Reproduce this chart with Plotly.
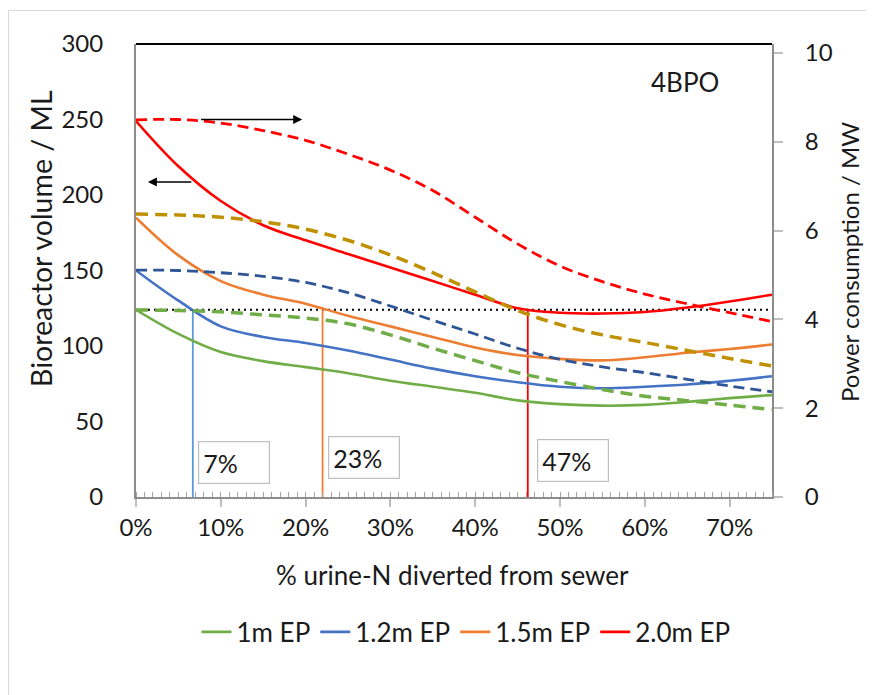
import plotly.graph_objects as go

# ---- data ----
diverted_pct = [0, 5, 10, 15, 20, 25, 30, 35, 40, 45, 50, 55, 60, 65, 70, 75]

# Bioreactor volume (ML) - left axis, solid
vol_1m = [124, 108, 96, 90, 86, 82, 77, 73, 69, 64, 61.5, 60.5, 61, 63, 65.5, 67.5]
vol_12m = [150, 130, 113, 106, 102, 97, 91, 85, 80, 76, 73, 72, 73, 74.5, 77, 80]
vol_15m = [185, 160, 143, 134, 128, 120, 113, 106, 99, 94, 91.5, 90.5, 92.5, 95.5, 98, 101]
vol_20m = [249, 219, 196, 180, 170, 161, 152, 143, 134, 125, 122, 121.5, 122.5, 125.5, 129.5, 134]

# Power consumption (MW) - right axis, dashed
pow_1m = [4.21, 4.2, 4.17, 4.1, 4.03, 3.9, 3.65, 3.35, 3.07, 2.8, 2.6, 2.42, 2.27, 2.17, 2.07, 1.97]
pow_12m = [5.11, 5.1, 5.05, 4.97, 4.83, 4.6, 4.3, 3.98, 3.67, 3.35, 3.1, 2.93, 2.8, 2.65, 2.5, 2.37]
pow_15m = [6.37, 6.35, 6.3, 6.2, 6.03, 5.78, 5.45, 5.05, 4.62, 4.2, 3.88, 3.65, 3.48, 3.3, 3.12, 2.95]
pow_20m = [8.49, 8.5, 8.42, 8.25, 8.03, 7.72, 7.36, 6.9, 6.3, 5.7, 5.2, 4.85, 4.57, 4.35, 4.15, 3.95]

series_names = ["1m EP", "1.2m EP", "1.5m EP", "2.0m EP"]

# threshold: volume of 1m EP with no diversion
threshold_volume = 124
threshold_x = [6.7, 22.0, 46.2]
threshold_labels = ["7%", "23%", "47%"]

x_ticks = [0, 10, 20, 30, 40, 50, 60, 70]
y_left_ticks = [0, 50, 100, 150, 200, 250, 300]
y_right_ticks = [0, 2, 4, 6, 8, 10]

# ---- styles ----
FONT = "Lato, 'Open Sans', sans-serif"
TXT = "#1a1a1a"
solid_colors = ["#70AD47", "#4472C4", "#ED7D31", "#FF0000"]
dash_colors = ["#70AD47", "#2F5597", "#BF9000", "#FF0000"]
dash_widths = [3.5, 2.8, 3.5, 2.8]
dash_patterns = ["12px,7px", "11px,6px", "12px,7px", "11px,6px"]
thr_colors = ["#5B9BD5", "#ED7D31", "#FF0000"]

fig = go.Figure()

vols = [vol_1m, vol_12m, vol_15m, vol_20m]
pows = [pow_1m, pow_12m, pow_15m, pow_20m]

# dashed (power, right axis)
for i in range(4):
    fig.add_trace(go.Scatter(
        x=diverted_pct, y=pows[i], yaxis="y2", mode="lines", showlegend=False,
        line=dict(color=dash_colors[i], width=dash_widths[i], dash=dash_patterns[i],
                  shape="spline", smoothing=1.0),
        hoverinfo="skip"))

# horizontal dotted threshold
fig.add_trace(go.Scatter(
    x=[diverted_pct[0], diverted_pct[-1]], y=[threshold_volume, threshold_volume],
    mode="lines", showlegend=False,
    line=dict(color="black", width=2.2, dash="2px,4px"), hoverinfo="skip"))

# vertical threshold lines
for i in range(3):
    fig.add_trace(go.Scatter(
        x=[threshold_x[i], threshold_x[i]], y=[0, threshold_volume], mode="lines",
        showlegend=False, line=dict(color=thr_colors[i], width=1.8), hoverinfo="skip"))

# solid (volume, left axis)
for i in range(4):
    fig.add_trace(go.Scatter(
        x=diverted_pct, y=vols[i], mode="lines", name=series_names[i],
        line=dict(color=solid_colors[i], width=2.6, shape="spline", smoothing=1.0)))

# page offset (body margin) and plot area in page pixels: x 136-772, y 44-497
OFF = 8
L, R, T, B = 136, 772, 44, 497
W, H = 874 - OFF, 695 - OFF


def px(xp):
    return (xp - L) / (R - L)


def py(yp):
    return (B - yp) / (B - T)


annotations = []
# text boxes
box_pos = [(233.5, 462), (363.5, 457.5), (573, 460.5)]
for lab, (bx, by) in zip(threshold_labels, box_pos):
    annotations.append(dict(
        x=px(bx), y=py(by), xref="paper", yref="paper", text=lab, showarrow=False,
        font=dict(family=FONT, size=25, color=TXT), align="left",
        width=62, height=33, borderpad=4, bordercolor="#bfbfbf", borderwidth=1.2,
        bgcolor="white", xanchor="center", yanchor="middle"))

# arrows
annotations.append(dict(x=19.6, y=250, ax=7.5, ay=250, xref="x", yref="y", axref="x", ayref="y",
                        text="", showarrow=True, arrowhead=2, arrowsize=1.2, arrowwidth=1.5,
                        arrowcolor="black"))
annotations.append(dict(x=1.4, y=208.6, ax=6.7, ay=208.6, xref="x", yref="y", axref="x", ayref="y",
                        text="", showarrow=True, arrowhead=2, arrowsize=1.2, arrowwidth=1.5,
                        arrowcolor="black"))

title_font = dict(family=FONT, size=26, color=TXT)
annotations.append(dict(x=px(685), y=py(82), xref="paper", yref="paper", text="4BPO",
                        showarrow=False, font=title_font, xanchor="center", yanchor="middle"))
annotations.append(dict(x=px(41), y=py(239), xref="paper", yref="paper",
                        text="Bioreactor volume / ML", textangle=-90, showarrow=False,
                        font=dict(family=FONT, size=28.5, color=TXT),
                        xanchor="center", yanchor="middle"))
annotations.append(dict(x=px(849), y=py(262), xref="paper", yref="paper",
                        text="Power consumption / MW", textangle=-90, showarrow=False,
                        font=dict(family=FONT, size=24, color=TXT),
                        xanchor="center", yanchor="middle"))
annotations.append(dict(x=px(452), y=py(575), xref="paper", yref="paper",
                        text="% urine-N diverted from sewer", showarrow=False,
                        font=title_font, xanchor="center", yanchor="middle"))

shapes = [
    # top black border of plot area
    dict(type="line", xref="paper", yref="paper", x0=0, x1=1, y0=1, y1=1,
         line=dict(color="black", width=2)),
    # outer chart border (left & top)
    dict(type="line", xref="paper", yref="paper", x0=px(8.5), x1=px(8.5), y0=py(10.5), y1=py(720),
         line=dict(color="#d9d9d9", width=1)),
    dict(type="line", xref="paper", yref="paper", x0=px(8.5), x1=px(900), y0=py(10.5), y1=py(10.5),
         line=dict(color="#d9d9d9", width=1)),
]

axis_gray = "#8c8c8c"
fig.update_layout(
    width=W, height=H,
    margin=dict(l=L - OFF, r=(W + OFF) - R, t=T - OFF, b=(H + OFF) - B, autoexpand=False),
    paper_bgcolor="white", plot_bgcolor="white",
    font=dict(family=FONT, size=24, color=TXT),
    xaxis=dict(range=[0, 75], tickvals=x_ticks, ticktext=[f"{v}%" for v in x_ticks],
               showgrid=False, zeroline=False, showline=True, linecolor=axis_gray, linewidth=2,
               ticks="outside", ticklen=8, tickcolor="#bfbfbf", tickwidth=1.5,
               minor=dict(ticks="inside", dtick=1, ticklen=5, tickcolor="#a6a6a6", tickwidth=1),
               tickfont=dict(family=FONT, size=24, color=TXT)),
    yaxis=dict(range=[0, 300], tickvals=y_left_ticks, showgrid=False, zeroline=False,
               showline=True, linecolor=axis_gray, linewidth=2, ticks="",
               ticklabelstandoff=26,
               tickfont=dict(family=FONT, size=24, color=TXT)),
    yaxis2=dict(range=[0, 10.2], tickvals=y_right_ticks, overlaying="y", side="right",
                showgrid=False, zeroline=False, showline=True, linecolor=axis_gray, linewidth=2,
                ticks="outside", ticklen=9, tickcolor="#bfbfbf", tickwidth=1.5,
                ticklabelstandoff=17,
                tickfont=dict(family=FONT, size=24, color=TXT)),
    legend=dict(orientation="h", x=px(466), y=py(632), xanchor="center", yanchor="middle",
                font=dict(family=FONT, size=26, color=TXT), itemwidth=30,
                bgcolor="rgba(0,0,0,0)"),
    annotations=annotations,
    shapes=shapes,
    showlegend=True,
)

fig.write_html("out.html")
